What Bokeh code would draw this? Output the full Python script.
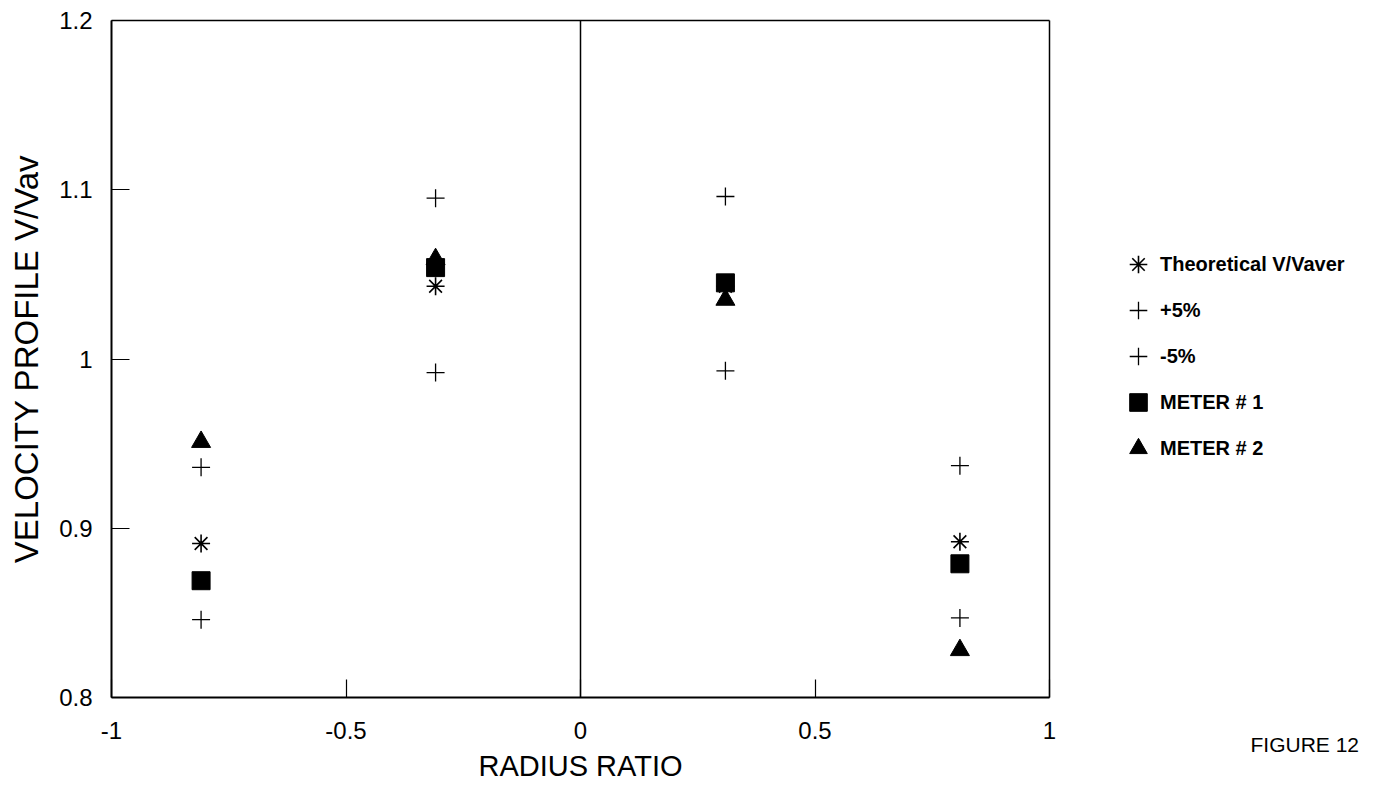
from bokeh.plotting import figure
from bokeh.models import FixedTicker, Legend, LegendItem, Label, LinearAxis
from bokeh.embed import file_html
from bokeh.resources import INLINE

# ---- data ----
radius = [-0.809, -0.309, 0.309, 0.809]
theoretical = [0.891, 1.043, 1.043, 0.892]
plus5 = [0.936, 1.095, 1.096, 0.937]
minus5 = [0.846, 0.992, 0.993, 0.847]
meter1 = [0.869, 1.054, 1.045, 0.879]
meter2 = [0.951, 1.059, 1.035, 0.828]

x_ticks = [-1, -0.5, 0, 0.5, 1]
x_tick_labels = ["-1", "-0.5", "0", "0.5", "1"]
y_ticks = [0.8, 0.9, 1.0, 1.1, 1.2]
y_tick_labels = ["0.8", "0.9", "1", "1.1", "1.2"]

FONT = "Liberation Sans"

# ---- layout: the frame fills the whole canvas; the plot box sits inside ----
W, H = 1380, 784
BOX_L, BOX_R, BOX_T, BOX_B = 111, 1049, 20, 697   # pixel edges of the plot box
X0, X1, Y0, Y1 = -1.0, 1.0, 0.8, 1.2
sx = (BOX_R - BOX_L) / (X1 - X0)
sy = (BOX_B - BOX_T) / (Y1 - Y0)
x_range = (X0 - BOX_L / sx, X1 + (W - BOX_R) / sx)
y_range = (Y0 - (H - BOX_B) / sy, Y1 + BOX_T / sy)

p = figure(width=W, height=H, x_range=x_range, y_range=y_range,
           output_backend="svg", toolbar_location=None,
           min_border_left=0, min_border_right=0,
           min_border_top=0, min_border_bottom=0)
p.background_fill_color = "white"
p.border_fill_color = "white"
p.grid.visible = False
p.outline_line_color = None

xa, ya = p.xaxis[0], p.yaxis[0]
xa.fixed_location = Y0
xa.bounds = (X0, X1)
ya.fixed_location = X0
ya.bounds = (Y0, Y1)
for ax in (xa, ya):
    ax.axis_line_color = "black"
    ax.axis_line_width = 2
    ax.major_tick_line_color = "black"
    ax.major_tick_line_width = 1.2
    ax.major_tick_in = 18
    ax.major_tick_out = 0
    ax.minor_tick_line_color = None
    ax.major_label_text_font = FONT
    ax.major_label_text_font_size = "24px"
    ax.major_label_text_color = "black"
    ax.axis_label_text_font = FONT
    ax.axis_label_text_font_style = "normal"
    ax.axis_label_text_color = "black"

xa.ticker = FixedTicker(ticks=x_ticks)
xa.major_label_overrides = {t: l for t, l in zip(x_ticks, x_tick_labels)}
ya.ticker = FixedTicker(ticks=y_ticks)
ya.major_label_overrides = {t: l for t, l in zip(y_ticks, y_tick_labels)}
xa.axis_label = "RADIUS RATIO"
ya.axis_label = "VELOCITY PROFILE V/Vav"
xa.axis_label_text_font_size = "29px"
ya.axis_label_text_font_size = "33px"
xa.major_label_standoff = 24
xa.axis_label_standoff = 8
ya.major_label_standoff = 19
ya.axis_label_standoff = 11


def plain_axis(cls_side, loc, bounds, width):
    a = LinearAxis(fixed_location=loc, bounds=bounds, ticker=FixedTicker(ticks=[]),
                   axis_line_color="black", axis_line_width=width,
                   major_tick_line_color=None, minor_tick_line_color=None,
                   major_label_text_color=None)
    p.add_layout(a, cls_side)


plain_axis("above", Y1, (X0, X1), 1.5)   # top edge of the box
plain_axis("right", X1, (Y0, Y1), 1.5)   # right edge of the box
plain_axis("left", 0, (Y0, Y1), 1.5)     # vertical line at radius ratio 0

r_th = p.scatter(radius, theoretical, marker="asterisk", size=18,
                 line_color="black", line_width=1.6)
r_p5 = p.scatter(radius, plus5, marker="cross", size=18,
                 line_color="black", line_width=1.3)
r_m5 = p.scatter(radius, minus5, marker="cross", size=18,
                 line_color="black", line_width=1.3)
r_m1 = p.scatter(radius, meter1, marker="square", size=18,
                 fill_color="black", line_color="black")
r_m2 = p.scatter(radius, meter2, marker="triangle", size=19,
                 fill_color="black", line_color="black")

legend = Legend(items=[
    LegendItem(label="Theoretical V/Vaver", renderers=[r_th]),
    LegendItem(label="+5%", renderers=[r_p5]),
    LegendItem(label="-5%", renderers=[r_m5]),
    LegendItem(label="METER # 1", renderers=[r_m1]),
    LegendItem(label="METER # 2", renderers=[r_m2]),
], location=(1116, H - 470))
legend.label_text_font = FONT
legend.label_text_font_size = "20px"
legend.label_text_font_style = "bold"
legend.label_text_color = "black"
legend.glyph_width = 44
legend.glyph_height = 44
legend.label_height = 44
legend.spacing = 2
legend.label_standoff = 0
legend.padding = 0
legend.margin = 0
legend.border_line_color = None
legend.background_fill_alpha = 0
p.add_layout(legend, "center")

p.add_layout(Label(x=X0 + (1250 - BOX_L) / sx, y=Y1 - (744 - BOX_T) / sy,
                   text="FIGURE 12", text_font=FONT, text_font_size="21px",
                   text_baseline="middle", text_align="left",
                   text_color="black"))

open("out.html", "w").write(file_html(p, INLINE))
